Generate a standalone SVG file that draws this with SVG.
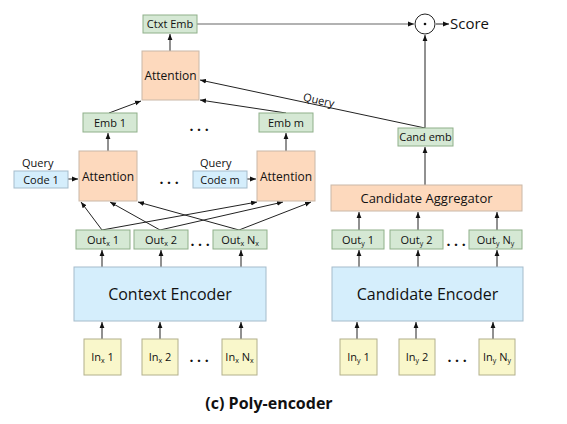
<svg xmlns="http://www.w3.org/2000/svg" width="567" height="424" viewBox="0 0 567 424">
<style>
text{font-family:"Open Sans","Noto Sans","DejaVu Sans",sans-serif;fill:#111;}
.g{fill:#d5e8d4;stroke:#8fb08a;stroke-width:1}
.o{fill:#fdd9bd;stroke:#c9b8a8;stroke-width:1}
.b{fill:#d5eefc;stroke:#a5bccb;stroke-width:1}
.y{fill:#f9f7cb;stroke:#b2b08c;stroke-width:1}
.s{font-size:11px;text-anchor:middle}
.m{font-size:12px;text-anchor:middle}
.big{font-size:16px;text-anchor:middle}
.c line,.c path{stroke:#222;stroke-width:1;fill:none;marker-end:url(#a)}
.sub{font-size:7px}
.dots{font-size:14px;font-weight:bold;text-anchor:middle}
</style>
<defs>
<marker id="a" viewBox="0 0 10 10" refX="10" refY="5" markerWidth="6" markerHeight="6" orient="auto" markerUnits="userSpaceOnUse">
<path d="M0,1 L10,5 L0,9 z" fill="#111"/>
</marker>
</defs>
<rect width="567" height="424" fill="#fff"/>

<g id="connectors" class="c">
<line x1="197" y1="24" x2="414" y2="24" style="stroke:#999;stroke-width:1.5"/>
<line x1="436" y1="24" x2="449" y2="24"/>
<line x1="425" y1="128" x2="425" y2="35"/>
<line x1="170" y1="51" x2="170" y2="34"/>
<line x1="109" y1="113" x2="141" y2="101"/>
<line x1="286" y1="113" x2="200" y2="100"/>
<line x1="425" y1="128" x2="200" y2="80"/>
<line x1="108" y1="151" x2="108" y2="133"/>
<line x1="286" y1="151" x2="286" y2="133"/>
<line x1="68" y1="179" x2="78" y2="179"/>
<line x1="247" y1="179" x2="256" y2="179"/>
<line x1="102" y1="230" x2="81" y2="202"/>
<line x1="102" y1="230" x2="257" y2="202"/>
<line x1="160" y1="230" x2="110" y2="202"/>
<line x1="160" y1="230" x2="283" y2="202"/>
<line x1="239" y1="230" x2="138" y2="202"/>
<line x1="239" y1="230" x2="311" y2="202"/>
<line x1="102" y1="267" x2="102" y2="250"/>
<line x1="161" y1="267" x2="161" y2="250"/>
<line x1="241" y1="267" x2="241" y2="250"/>
<line x1="102" y1="339" x2="102" y2="322"/>
<line x1="160" y1="339" x2="160" y2="322"/>
<line x1="241" y1="339" x2="241" y2="322"/>
<line x1="357" y1="339" x2="357" y2="322"/>
<line x1="416" y1="339" x2="416" y2="322"/>
<line x1="493" y1="339" x2="493" y2="322"/>
<line x1="359" y1="267" x2="359" y2="250"/>
<line x1="418" y1="267" x2="418" y2="250"/>
<line x1="497" y1="267" x2="497" y2="250"/>
<line x1="359" y1="230" x2="359" y2="212"/>
<line x1="418" y1="230" x2="418" y2="212"/>
<line x1="497" y1="230" x2="497" y2="212"/>
<line x1="425" y1="185" x2="425" y2="147"/>
</g>

<text x="318" y="104" font-size="11" text-anchor="middle" transform="rotate(12.5 318 104)">Query</text>

<g id="dot-product">
<circle cx="425" cy="24" r="10" fill="#fff" stroke="#222" stroke-width="1"/>
<circle cx="425" cy="24" r="1.3" fill="#111"/>
</g>
<g id="score"><text x="450" y="29" font-size="15">Score</text></g>

<g id="ctxt-emb"><rect class="g" x="143" y="15" width="54" height="18"/><text class="s" x="170" y="28">Ctxt Emb</text></g>
<g id="attention-top"><rect class="o" x="142" y="51" width="57" height="49"/><text class="m" x="170.5" y="80">Attention</text></g>
<g id="emb-1"><rect class="g" x="83" y="113" width="54" height="19"/><text class="s" x="110" y="127">Emb 1</text></g>
<text class="dots" x="199" y="131">. . .</text>
<g id="emb-m"><rect class="g" x="259" y="113" width="54" height="19"/><text class="s" x="286" y="127">Emb m</text></g>
<g id="cand-emb"><rect class="g" x="398" y="128" width="55" height="18"/><text class="s" x="425.5" y="141">Cand emb</text></g>

<g id="code-1"><text x="22" y="167" font-size="11">Query</text><rect class="b" x="14" y="171" width="54" height="17"/><text class="s" x="41" y="184">Code 1</text></g>
<g id="attention-1"><rect class="o" x="79" y="151" width="58" height="50"/><text class="m" x="108" y="181">Attention</text></g>
<text class="dots" x="169" y="184">. . .</text>
<g id="code-m"><text x="200" y="167" font-size="11">Query</text><rect class="b" x="193" y="171" width="54" height="17"/><text class="s" x="220" y="184">Code m</text></g>
<g id="attention-m"><rect class="o" x="257" y="151" width="58" height="50"/><text class="m" x="286" y="181">Attention</text></g>

<g id="candidate-aggregator"><rect class="o" x="331" y="185" width="191" height="26"/><text x="426.5" y="203" font-size="13" text-anchor="middle">Candidate Aggregator</text></g>

<g id="out-x-1"><rect class="g" x="76" y="230" width="54" height="19"/><text class="s" x="103" y="244">Out<tspan class="sub" dy="2">x</tspan><tspan dy="-2"> 1</tspan></text></g>
<g id="out-x-2"><rect class="g" x="134" y="230" width="54" height="19"/><text class="s" x="161" y="244">Out<tspan class="sub" dy="2">x</tspan><tspan dy="-2"> 2</tspan></text></g>
<text class="dots" x="200" y="246">. . .</text>
<g id="out-x-n"><rect class="g" x="213" y="230" width="54" height="19"/><text class="s" x="240" y="244">Out<tspan class="sub" dy="2">x</tspan><tspan dy="-2"> N</tspan><tspan class="sub" dy="2">x</tspan></text></g>

<g id="out-y-1"><rect class="g" x="332" y="230" width="52" height="19"/><text class="s" x="358" y="244">Out<tspan class="sub" dy="2">y</tspan><tspan dy="-2"> 1</tspan></text></g>
<g id="out-y-2"><rect class="g" x="390" y="230" width="53" height="19"/><text class="s" x="416.5" y="244">Out<tspan class="sub" dy="2">y</tspan><tspan dy="-2"> 2</tspan></text></g>
<text class="dots" x="456" y="246">. . .</text>
<g id="out-y-n"><rect class="g" x="469" y="230" width="53" height="19"/><text class="s" x="495.5" y="244">Out<tspan class="sub" dy="2">y</tspan><tspan dy="-2"> N</tspan><tspan class="sub" dy="2">y</tspan></text></g>

<g id="context-encoder"><rect class="b" x="74" y="267" width="192" height="54"/><text class="big" x="170" y="300">Context Encoder</text></g>
<g id="candidate-encoder"><rect class="b" x="332" y="267" width="191" height="54"/><text class="big" x="427.5" y="300">Candidate Encoder</text></g>

<g id="in-x-1"><rect class="y" x="84" y="339" width="37" height="36"/><text class="s" x="102.5" y="361">In<tspan class="sub" dy="2">x</tspan><tspan dy="-2"> 1</tspan></text></g>
<g id="in-x-2"><rect class="y" x="142" y="339" width="36" height="36"/><text class="s" x="160" y="361">In<tspan class="sub" dy="2">x</tspan><tspan dy="-2"> 2</tspan></text></g>
<text class="dots" x="199" y="362">. . .</text>
<g id="in-x-n"><rect class="y" x="222" y="339" width="35" height="36"/><text class="s" x="239.5" y="361">In<tspan class="sub" dy="2">x</tspan><tspan dy="-2"> N</tspan><tspan class="sub" dy="2">x</tspan></text></g>

<g id="in-y-1"><rect class="y" x="340" y="339" width="37" height="36"/><text class="s" x="358.5" y="361">In<tspan class="sub" dy="2">y</tspan><tspan dy="-2"> 1</tspan></text></g>
<g id="in-y-2"><rect class="y" x="399" y="339" width="36" height="36"/><text class="s" x="417" y="361">In<tspan class="sub" dy="2">y</tspan><tspan dy="-2"> 2</tspan></text></g>
<text class="dots" x="457" y="362">. . .</text>
<g id="in-y-n"><rect class="y" x="479" y="339" width="36" height="36"/><text class="s" x="497" y="361">In<tspan class="sub" dy="2">y</tspan><tspan dy="-2"> N</tspan><tspan class="sub" dy="2">y</tspan></text></g>

<text x="269" y="409" font-size="16" font-weight="bold" text-anchor="middle">(c) Poly-encoder</text>
</svg>
